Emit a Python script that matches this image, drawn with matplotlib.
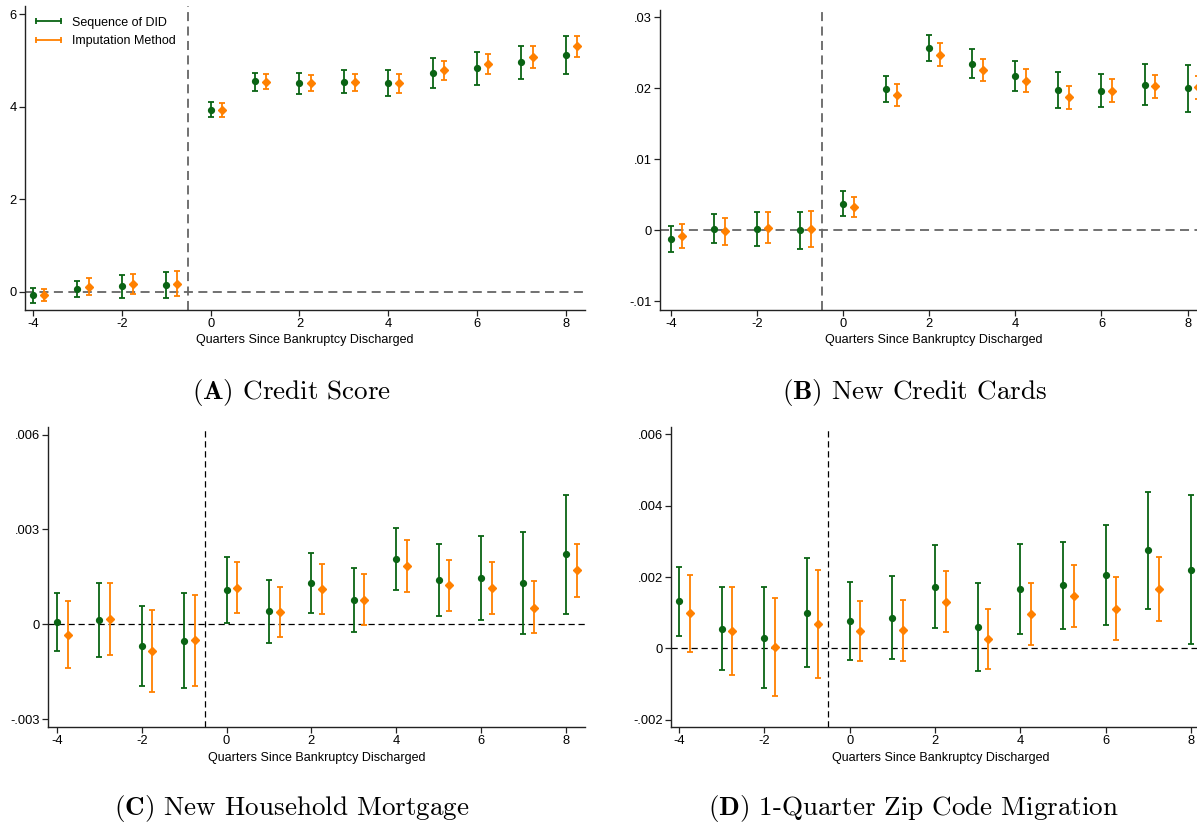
import numpy as np
import matplotlib
matplotlib.use('Agg')
import matplotlib.pyplot as plt
from matplotlib.lines import Line2D

plt.rcParams['font.family'] = ['Liberation Sans', 'DejaVu Sans']
plt.rcParams['mathtext.fontset'] = 'cm'

quarters = np.arange(-4, 9)

# (A) Credit Score
a_did = [-0.07, 0.07, 0.12, 0.16, 3.94, 4.55, 4.51, 4.53, 4.52, 4.73, 4.83, 4.96, 5.12]
a_did_hi = [0.09, 0.24, 0.36, 0.43, 4.11, 4.74, 4.74, 4.79, 4.80, 5.05, 5.18, 5.31, 5.53]
a_did_lo = [-0.23, -0.10, -0.12, -0.12, 3.78, 4.35, 4.27, 4.29, 4.23, 4.41, 4.48, 4.61, 4.72]
a_imp = [-0.06, 0.11, 0.175, 0.18, 3.94, 4.54, 4.51, 4.53, 4.52, 4.79, 4.93, 5.08, 5.31]
a_imp_hi = [0.07, 0.31, 0.39, 0.45, 4.08, 4.71, 4.69, 4.71, 4.72, 5.00, 5.15, 5.31, 5.54]
a_imp_lo = [-0.20, -0.07, -0.05, -0.09, 3.79, 4.38, 4.34, 4.34, 4.31, 4.58, 4.71, 4.85, 5.07]

# (B) New Credit Cards
b_did = [-0.00117, 0.00023, 0.0002, 0.0, 0.00376, 0.01986, 0.02563, 0.02347, 0.02174, 0.01972, 0.01967, 0.02052, 0.0200]
b_did_hi = [0.0006, 0.0023, 0.0026, 0.0026, 0.0055, 0.0217, 0.02746, 0.02545, 0.02376, 0.02225, 0.02197, 0.02347, 0.02333]
b_did_lo = [-0.00305, -0.0018, -0.0022, -0.0026, 0.0020, 0.0180, 0.0238, 0.02146, 0.01967, 0.01723, 0.01742, 0.01765, 0.01662]
b_imp = [-0.00085, -0.0001, 0.00038, 0.0002, 0.00333, 0.01906, 0.02474, 0.02258, 0.02108, 0.01873, 0.01967, 0.02028, 0.0201]
b_imp_hi = [0.0009, 0.0018, 0.0026, 0.0027, 0.0047, 0.0206, 0.02634, 0.02408, 0.02268, 0.02028, 0.02127, 0.02188, 0.0217]
b_imp_lo = [-0.00254, -0.0021, -0.0018, -0.0023, 0.0019, 0.01756, 0.02315, 0.02099, 0.01948, 0.01714, 0.01812, 0.01869, 0.0185]

# (C) New Household Mortgage
c_did = [0.00006, 0.00015, -0.00069, -0.00052, 0.00107, 0.00041, 0.00132, 0.00078, 0.00205, 0.0014, 0.00146, 0.00131, 0.00221]
c_did_hi = [0.00099, 0.00132, 0.00058, 0.0010, 0.00212, 0.0014, 0.00226, 0.00179, 0.00303, 0.00255, 0.0028, 0.00292, 0.00408]
c_did_lo = [-0.00085, -0.00102, -0.00195, -0.00203, 0.00004, -0.00059, 0.00037, -0.00023, 0.00107, 0.00025, 0.00012, -0.00031, 0.00033]
c_imp = [-0.00034, 0.00017, -0.00084, -0.00051, 0.00116, 0.00039, 0.00112, 0.00078, 0.00184, 0.00123, 0.00115, 0.00053, 0.00171]
c_imp_hi = [0.00072, 0.00132, 0.00044, 0.00094, 0.00196, 0.00119, 0.00192, 0.00159, 0.00265, 0.00204, 0.00197, 0.00136, 0.00255]
c_imp_lo = [-0.00138, -0.00098, -0.00213, -0.00194, 0.00036, -0.00041, 0.00031, -0.00002, 0.00102, 0.00041, 0.00033, -0.00028, 0.00086]

# (D) 1-Quarter Zip Code Migration
d_did = [0.00132, 0.00055, 0.0003, 0.0010, 0.00076, 0.00086, 0.00173, 0.00059, 0.00167, 0.00178, 0.00206, 0.00275, 0.00221]
d_did_hi = [0.00229, 0.00172, 0.00171, 0.00254, 0.00185, 0.00204, 0.00289, 0.00182, 0.00294, 0.00299, 0.00345, 0.00439, 0.00431]
d_did_lo = [0.00035, -0.00061, -0.00111, -0.00054, -0.00034, -0.0003, 0.00057, -0.00064, 0.00039, 0.00055, 0.00064, 0.0011, 0.00012]
d_imp = [0.00098, 0.00048, 0.00003, 0.00067, 0.00048, 0.0005, 0.00131, 0.00025, 0.00095, 0.00147, 0.00111, 0.00165, 0.00124]
d_imp_hi = [0.00207, 0.00171, 0.0014, 0.00219, 0.00132, 0.00136, 0.00217, 0.00111, 0.00182, 0.00235, 0.00199, 0.00255, 0.00213]
d_imp_lo = [-0.00011, -0.00075, -0.00134, -0.00084, -0.00036, -0.00035, 0.00045, -0.00059, 0.00009, 0.00059, 0.00022, 0.00077, 0.00035]

a_yticks = [0, 2, 4, 6]
a_ylabels = ['0', '2', '4', '6']
b_yticks = [-0.01, 0, 0.01, 0.02, 0.03]
b_ylabels = ['-.01', '0', '.01', '.02', '.03']
c_yticks = [-0.003, 0, 0.003, 0.006]
c_ylabels = ['-.003', '0', '.003', '.006']
d_yticks = [-0.002, 0, 0.002, 0.004, 0.006]
d_ylabels = ['-.002', '0', '.002', '.004', '.006']
xticks = [-4, -2, 0, 2, 4, 6, 8]

captions = [r'$\mathbf{(A)}$ Credit Score', r'$\mathbf{(B)}$ New Credit Cards',
            r'$\mathbf{(C)}$ New Household Mortgage', r'$\mathbf{(D)}$ 1-Quarter Zip Code Migration']
series_names = ['Sequence of DID', 'Imputation Method']

green = '#0a6414'
orange = '#ff8000'

W, H = 1197, 824
fig = plt.figure(figsize=(W / 100, H / 100), dpi=100)


def px_axes(left, top, right, bottom):
    return fig.add_axes([left / W, 1 - bottom / H, (right - left) / W, (bottom - top) / H])


panels = [
    dict(box=(25, 6, 585, 310), xlim=(-4.18, 8.43), ylim=(-0.39, 6.18),
         did=(a_did, a_did_lo, a_did_hi), imp=(a_imp, a_imp_lo, a_imp_hi),
         yt=a_yticks, yl=a_ylabels, ref='#666666', rlw=1.3, legend=True),
    dict(box=(660, 10, 1207, 310), xlim=(-4.25, 8.45), ylim=(-0.0112, 0.031),
         did=(b_did, b_did_lo, b_did_hi), imp=(b_imp, b_imp_lo, b_imp_hi),
         yt=b_yticks, yl=b_ylabels, ref='#666666', rlw=1.3, legend=False),
    dict(box=(48, 427, 585, 727), xlim=(-4.21, 8.45), ylim=(-0.00325, 0.00624),
         did=(c_did, c_did_lo, c_did_hi), imp=(c_imp, c_imp_lo, c_imp_hi),
         yt=c_yticks, yl=c_ylabels, ref='black', rlw=0.9, legend=False),
    dict(box=(671, 427, 1210, 727), xlim=(-4.19, 8.45), ylim=(-0.00221, 0.00621),
         did=(d_did, d_did_lo, d_did_hi), imp=(d_imp, d_imp_lo, d_imp_hi),
         yt=d_yticks, yl=d_ylabels, ref='black', rlw=0.9, legend=False),
]

for p in panels:
    ax = px_axes(*p['box'])
    ax.axhline(0, color=p['ref'], lw=p['rlw'], ls=(0, (5, 3)), zorder=1)
    ax.axvline(-0.5, color=p['ref'], lw=p['rlw'], ls=(0, (5, 3)), zorder=1)

    for series, shift, col, mk, ms in [(p['did'], 0.0, green, 'o', 4.2),
                                       (p['imp'], 0.25, orange, 'D', 3.6)]:
        y, lo, hi = (np.array(s) for s in series)
        ax.errorbar(quarters + shift, y, yerr=[y - lo, hi - y], fmt=mk, color=col, ms=ms,
                    elinewidth=1.3, capsize=2.2, capthick=1.3, zorder=3)

    ax.set_xlim(*p['xlim'])
    ax.set_ylim(*p['ylim'])
    ax.set_xticks(xticks)
    ax.set_xticklabels([str(t) for t in xticks])
    ax.set_yticks(p['yt'])
    ax.set_yticklabels(p['yl'])
    for s in ['top', 'right']:
        ax.spines[s].set_visible(False)
    for s in ['left', 'bottom']:
        ax.spines[s].set_color('#222222')
        ax.spines[s].set_linewidth(1.0)
    ax.tick_params(direction='out', length=4, width=0.9, color='#222222', labelsize=9.3, pad=2)
    ax.set_xlabel('Quarters Since Bankruptcy Discharged', fontsize=9, labelpad=3)

    if p['legend']:
        # legend keys look like a horizontal bar with caps at both ends
        handles = [Line2D([0], [0], color=c, lw=1.3, marker='|', ms=5, mew=1.3)
                   for c in (green, orange)]
        ax.legend(handles, series_names, loc='upper left', frameon=False, fontsize=9,
                  numpoints=2, handlelength=2.6, borderaxespad=0.2, handletextpad=0.6,
                  labelspacing=0.55, bbox_to_anchor=(0.0, 0.99))

cap_pos = [(292, 393), (914, 393), (292, 808), (914, 808)]
for (cx, cy), cap in zip(cap_pos, captions):
    fig.text(cx / W, 1 - cy / H, cap, ha='center', va='center', fontsize=19.5, family='cmr10')

fig.savefig('out.png', dpi=100)
